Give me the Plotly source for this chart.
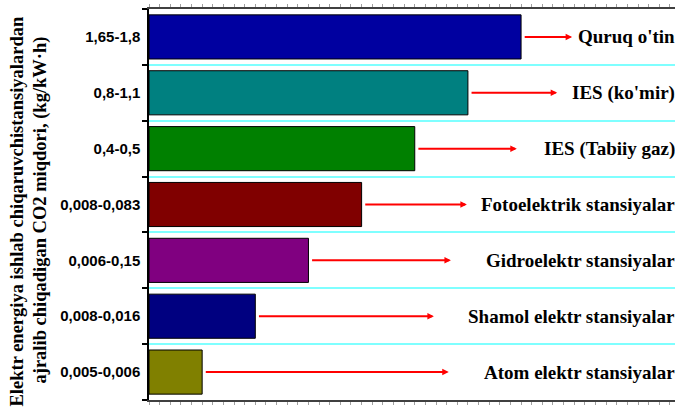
import plotly.graph_objects as go

# ---- data ----
categories = ["1,65-1,8", "0,8-1,1", "0,4-0,5", "0,008-0,083",
              "0,006-0,15", "0,008-0,016", "0,005-0,006"]
bar_len = [7, 6, 5, 4, 3, 2, 1]
labels = ["Quruq o'tin", "IES (ko'mir)", "IES (Tabiiy gaz)",
          "Fotoelektrik stansiyalar", "Gidroelektr stansiyalar",
          "Shamol elektr stansiyalar", "Atom elektr stansiyalar"]
bar_colors = ["#0000a0", "#008080", "#008000", "#800000",
              "#800080", "#000080", "#808000"]
arrow_tip = [7.96, 7.68, 6.92, 5.98, 5.68, 5.36, 5.64]
ytitle_1 = "Elektr energiya ishlab chiqaruvchistansiyalardan"
ytitle_2 = "ajralib chiqadigan CO2 miqdori, (kg/kW·h)"

W, H = 675, 412
ML, MR, MT, MB = 149, 0, 9, 12
x_max = 9.896

serif = "Liberation Serif"
sans = "Liberation Sans"

fig = go.Figure()
fig.add_trace(go.Bar(
    y=categories, x=bar_len, orientation="h",
    marker=dict(color=bar_colors, line=dict(color="#000000", width=1)),
    hoverinfo="skip",
))

annotations = []
for cat, blen, tip, lab in zip(categories, bar_len, arrow_tip, labels):
    annotations.append(dict(
        x=tip, y=cat, xref="x", yref="y",
        ax=blen + 0.04, ay=cat, axref="x", ayref="y",
        text="", showarrow=True, arrowhead=2, arrowsize=0.65,
        arrowwidth=2, arrowcolor="#ff0000", standoff=0, startstandoff=0,
    ))
    annotations.append(dict(
        x=(677 - ML) / (W - ML - MR), y=cat, xref="paper", yref="y",
        xanchor="right", yanchor="middle", showarrow=False,
        text="<b>" + lab + "</b>",
        font=dict(family=serif, size=19, color="#000000"),
    ))

plot_h = H - MT - MB
annotations.append(dict(
    x=(16.5 - ML) / (W - ML - MR), y=(H - MB - 212) / plot_h,
    xref="paper", yref="paper", textangle=-90, showarrow=False,
    xanchor="center", yanchor="middle",
    text="<b>" + ytitle_1 + "</b>",
    font=dict(family=serif, size=18.5, color="#000000"),
))
annotations.append(dict(
    x=(39.5 - ML) / (W - ML - MR), y=(H - MB - 210) / plot_h,
    xref="paper", yref="paper", textangle=-90, showarrow=False,
    xanchor="center", yanchor="middle",
    text="<b>" + ytitle_2 + "</b>",
    font=dict(family=serif, size=18.5, color="#000000"),
))

fig.update_layout(
    width=W, height=H,
    margin=dict(l=ML, r=MR, t=MT, b=MB, pad=0),
    paper_bgcolor="#ffffff", plot_bgcolor="#ffffff",
    bargap=0.21, showlegend=False,
    annotations=annotations,
    xaxis=dict(
        range=[0, x_max], showgrid=False, zeroline=False,
        showline=True, linecolor="#404040", linewidth=2, mirror="ticks",
        ticks="outside", tick0=0, dtick=0.2, ticklen=3, tickwidth=1,
        tickcolor="#a0a0a0", showticklabels=False,
    ),
    yaxis=dict(
        type="category", categoryorder="array", categoryarray=categories,
        autorange="reversed", tickson="boundaries",
        tickvals=categories, ticktext=["<b>" + c + "</b>" for c in categories],
        showgrid=True, gridcolor="#7fffff", gridwidth=2,
        showline=True, linecolor="#000000", linewidth=1.5,
        ticks="outside", ticklen=5, tickcolor="#000000", tickwidth=1.5,
        ticklabelstandoff=4,
        tickfont=dict(family=sans, size=15, color="#000000"),
        zeroline=False,
    ),
)

fig.write_html("out.html")
